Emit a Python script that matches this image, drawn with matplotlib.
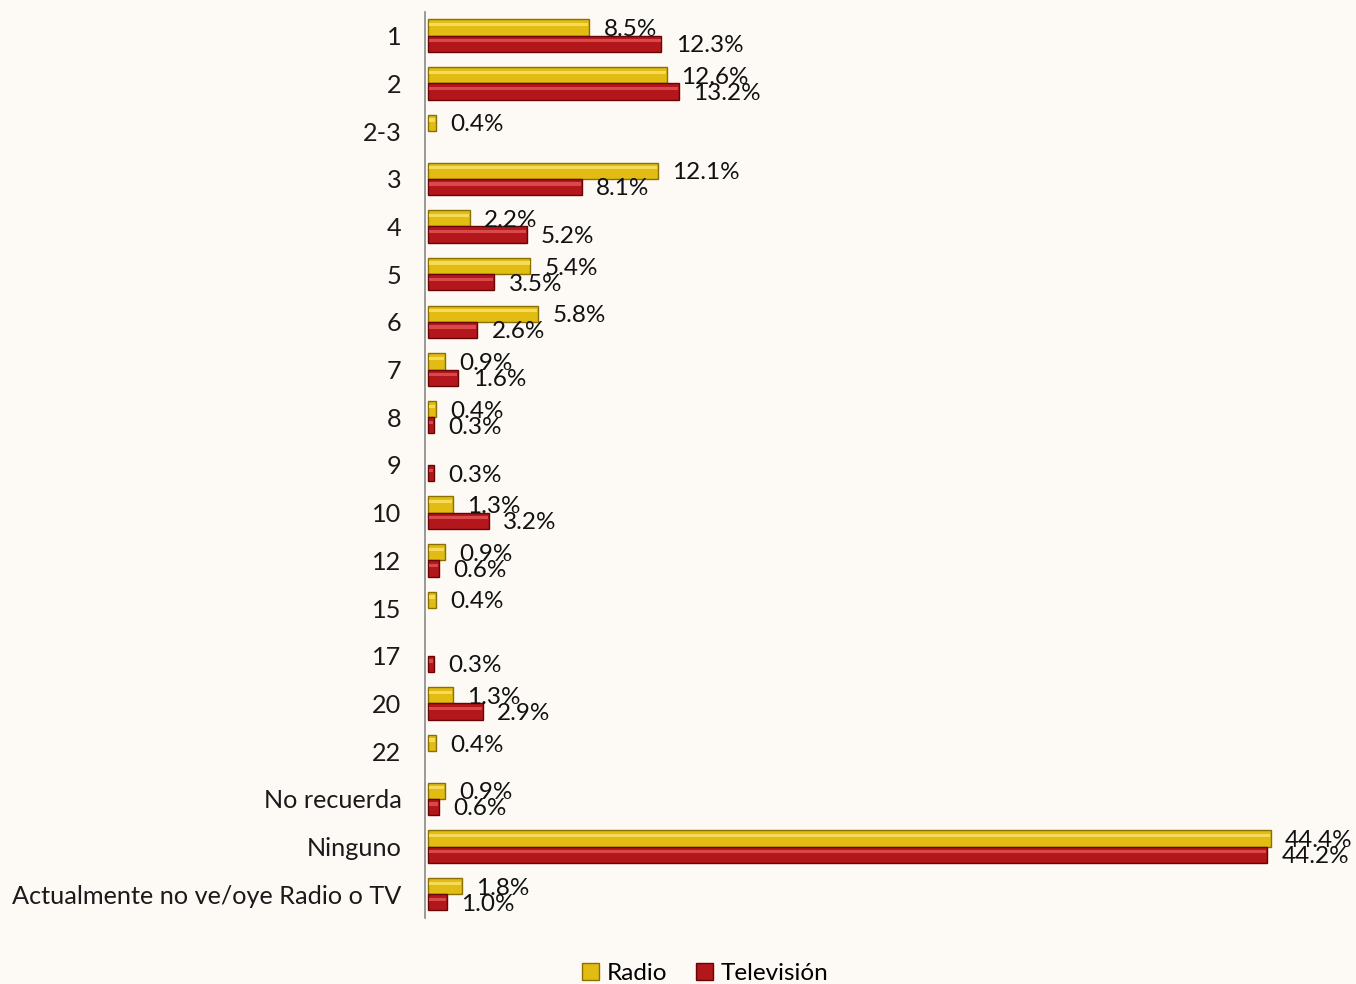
import numpy as np
import matplotlib
matplotlib.use("Agg")
import matplotlib.pyplot as plt

categories = ["1", "2", "2-3", "3", "4", "5", "6", "7", "8", "9", "10", "12",
              "15", "17", "20", "22", "No recuerda", "Ninguno",
              "Actualmente no ve/oye Radio o TV"]
radio = [8.5, 12.6, 0.4, 12.1, 2.2, 5.4, 5.8, 0.9, 0.4, 0, 1.3, 0.9,
         0.4, 0, 1.3, 0.4, 0.9, 44.4, 1.8]
tv = [12.3, 13.2, 0, 8.1, 5.2, 3.5, 2.6, 1.6, 0.3, 0.3, 3.2, 0.6,
      0, 0.3, 2.9, 0, 0.6, 44.2, 1.0]

plt.rcParams["font.family"] = ["Lato", "DejaVu Sans"]

fig = plt.figure(figsize=(13.56, 9.84), dpi=100)
fig.patch.set_facecolor("#FDFAF6")
ax = fig.add_axes([0.3135, 0.067, 0.63, 0.921])
ax.set_facecolor("none")

y = np.arange(len(categories))
h = 0.34

series = [
    ("Radio", radio, -h / 2, "#E2BC12", "#8A7000", "#F4DC5A"),
    ("Televisión", tv, h / 2, "#B3171B", "#650505", "#D9484A"),
]

for name, vals, off, face, edge, light in series:
    vals = np.array(vals, dtype=float)
    mask = vals > 0
    ax.barh(y[mask] + off, vals[mask], height=h, left=0.15, color=face,
            edgecolor=edge, linewidth=1.0, label=name, zorder=2)
    # highlight strip for the glossy look
    ax.barh(y[mask] + off - h * 0.18, vals[mask] - 0.1, height=h * 0.2,
            left=0.2, color=light, linewidth=0, zorder=3)
    for yi, v in zip(y[mask] + off, vals[mask]):
        ax.text(v + 0.15 + 0.75, yi, f"{v:.1f}%", va="center_baseline",
                ha="left", fontsize=17.5, color="#111111", zorder=4,
                clip_on=False)

ax.set_xlim(0, 45)
ax.set_ylim(len(categories) - 0.5, -0.5)
ax.set_yticks(y)
ax.set_yticklabels(categories, fontsize=18.2, color="#1a1a1a")
ax.tick_params(axis="y", length=0, pad=17)
ax.set_xticks([])
for s in ["top", "right", "bottom"]:
    ax.spines[s].set_visible(False)
ax.spines["left"].set_color("#888888")
ax.spines["left"].set_linewidth(1.2)

handles = [plt.Rectangle((0, 0), 1, 1, facecolor=c, edgecolor=e)
           for _, _, _, c, e, _ in series]
fig.legend(handles, [s[0] for s in series], loc="lower center",
           bbox_to_anchor=(0.52, -0.022), ncol=2, frameon=False,
           fontsize=17.5, handlelength=0.7, handleheight=0.7,
           handletextpad=0.3, columnspacing=1.2)

fig.savefig("out.png", dpi=100, facecolor=fig.get_facecolor())
